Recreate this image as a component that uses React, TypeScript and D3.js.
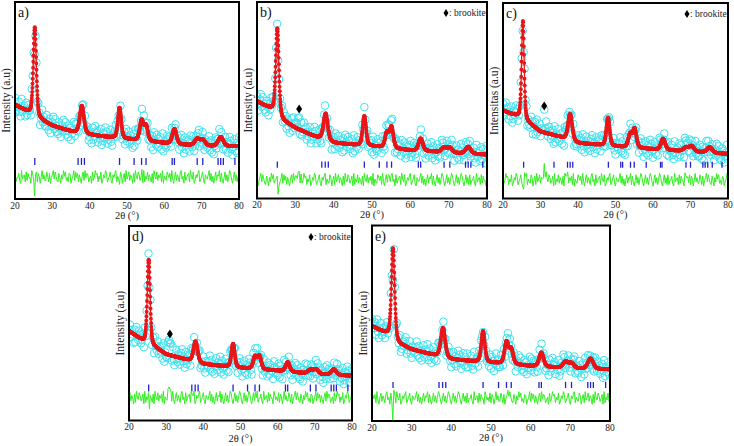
import React from "react";
import * as d3 from "d3";

// ---- data (intensities in % of panel height) ----
const TWO_THETA_TICKS = [20, 30, 40, 50, 60, 70, 80];
const BG_X = [20, 24, 27, 30, 35, 40, 45, 50, 55, 60, 65, 70, 75, 80];
const PEAK_POS = [25.3, 37.9, 48.0, 53.9, 55.1, 62.7, 68.8, 70.3, 75.1];
const PEAK_FWHM = [0.95, 1.3, 1.05, 1.15, 1.15, 1.3, 1.5, 1.5, 1.6];

const BG_A = [47.8, 43.6, 40.2, 37.2, 34.3, 32.6, 31.4, 30.4, 29.4, 28.4, 27.5, 27.0, 26.7, 26.8];
const BG_B = [49.4, 45.2, 39.3, 35.9, 31.6, 28.3, 27.4, 26.6, 25.5, 24.5, 24.0, 23.2, 22.8, 22.3];
const BG_C = [45.0, 41.8, 38.4, 34.2, 31.6, 28.3, 27.5, 26.6, 25.9, 25.2, 24.6, 24.0, 23.4, 22.8];
const BG_D = [46.0, 40.5, 37.5, 34.0, 31.5, 29.0, 28.0, 27.0, 26.3, 25.6, 24.7, 23.9, 23.4, 23.0];
const BG_E = [48.5, 44.3, 39.2, 36.6, 34.0, 31.5, 30.6, 29.8, 29.0, 28.1, 27.5, 26.9, 26.6, 26.4];

const PEAKS_A = [45.0, 14.0, 15.5, 10.0, 7.5, 7.6, 3.3, 3.0, 4.8];
const PEAKS_B = [44.0, 13.5, 15.0, 7.5, 10.5, 6.3, 2.4, 2.6, 3.5];
const PEAKS_C = [50.5, 13.5, 14.3, 6.6, 9.5, 5.7, 1.9, 2.8, 2.9];
const PEAKS_D = [43.5, 10.6, 12.0, 6.2, 6.6, 4.8, 1.9, 2.4, 2.9];
const PEAKS_E = [46.3, 15.0, 15.8, 11.0, 7.5, 7.2, 3.2, 2.6, 5.3];

const ANATASE_TICKS = [25.3, 36.9, 37.8, 38.6, 48.0, 51.9, 53.9, 55.1, 62.1, 62.7, 68.8, 70.3, 74.4, 75.1, 75.8, 78.9];
const MIXED_TICKS = [25.5, 33.6, 37.2, 37.9, 38.6, 48.1, 51.4, 51.9, 54.0, 55.0, 58.2, 62.0, 62.4, 68.8, 70.0, 73.3, 73.9, 74.6, 75.8, 78.4];

// residual samples (one digit per 0.25 deg step, 4.5 = zero)
const NOISE =
  "81447209356182744096352817504936228517046938521740639582417603592847163058294761350824967153802649713582064791532860471935826407195386247091538264170953826471905328647193058264179350824671953802647913582064" +
  "36927150482659173048261597304826159730482615973048261";

// extra residual features: [2theta, amplitude, fwhm]
const BUMPS_A = [[25.25, -10, 0.1], [25.5, 3, 0.1], [48.0, -2, 0.2], [54.0, 2, 0.3]];
const BUMPS_B = [[25.5, -8.5, 0.1], [25.0, 3, 0.1], [30.8, 5, 0.7], [54.5, 2.5, 0.6]];
const BUMPS_C = [[25.5, -6, 0.1], [25.75, 4, 0.1], [31.0, 6.5, 0.6], [37.0, 3, 0.5], [69.0, 2, 0.6]];
const BUMPS_D = [[25.5, -4, 0.1], [30.9, 5, 0.7], [54.2, 2.5, 0.5], [37.2, 2, 0.5]];
const BUMPS_E = [[25.25, -11, 0.1], [25.5, 3, 0.1], [54.5, 2, 0.4]];

const BROOKITE_MARK_B = [31.0, 45.5];
const BROOKITE_MARK_C = [31.0, 47.3];
const BROOKITE_MARK_D = [31.0, 44.5];

// ---- layout ----
type Panel = {
  label: string; ylabel: string; box: number[]; bg: number[]; peaks: number[];
  mainW: number; ticks: number[]; tickBand: number[]; diffBase: number;
  bumps: number[][]; noiseOffset: number; mark: number[] | null; titleDy: number;
};

const PANELS: Panel[] = [
  { label: "a)", ylabel: "Intensity (a.u)", box: [15, 2, 239, 199], bg: BG_A, peaks: PEAKS_A, mainW: 0.95, ticks: ANATASE_TICKS, tickBand: [17.3, 20.8], diffBase: 11.2, bumps: BUMPS_A, noiseOffset: 0, mark: null, titleDy: 19.5 },
  { label: "b)", ylabel: "Intensity (a.u)", box: [257, 2, 487, 198.5], bg: BG_B, peaks: PEAKS_B, mainW: 0.95, ticks: ANATASE_TICKS, tickBand: [15.7, 18.8], diffBase: 9.6, bumps: BUMPS_B, noiseOffset: 37, mark: BROOKITE_MARK_B, titleDy: 19.5 },
  { label: "c)", ylabel: "Intensitas (a.u)", box: [503, 3, 728, 198.5], bg: BG_C, peaks: PEAKS_C, mainW: 0.8, ticks: MIXED_TICKS, tickBand: [15.7, 18.8], diffBase: 9.6, bumps: BUMPS_C, noiseOffset: 83, mark: BROOKITE_MARK_C, titleDy: 19.5 },
  { label: "d)", ylabel: "Intensity (a.u)", box: [129, 226, 352, 420.5], bg: BG_D, peaks: PEAKS_D, mainW: 0.9, ticks: ANATASE_TICKS, tickBand: [14.9, 18.5], diffBase: 11.8, bumps: BUMPS_D, noiseOffset: 121, mark: BROOKITE_MARK_D, titleDy: 21.5 },
  { label: "e)", ylabel: "Intensity (a.u)", box: [372, 225.5, 610, 421], bg: BG_E, peaks: PEAKS_E, mainW: 0.95, ticks: ANATASE_TICKS, tickBand: [16.9, 20.0], diffBase: 11.8, bumps: BUMPS_E, noiseOffset: 163, mark: null, titleDy: 20 },
];

const FONT = "'Liberation Serif', 'DejaVu Serif', serif";
const LN2 = Math.log(2);

function pv(x: number, c: number, w: number) {
  const t = (x - c) / w;
  const g = Math.exp(-4 * LN2 * t * t);
  const l = 1 / (1 + 4 * t * t);
  return 0.35 * l + 0.65 * g;
}
function gauss(x: number, c: number, w: number) {
  const t = (x - c) / w;
  return Math.exp(-4 * LN2 * t * t);
}

function Diamond({ cx, cy, w, h }: { cx: number; cy: number; w: number; h: number }) {
  return <path d={`M${cx},${cy - h / 2}L${cx + w / 2},${cy}L${cx},${cy + h / 2}L${cx - w / 2},${cy}Z`} fill="#000" />;
}

const txt = (size: number) => ({ fontFamily: FONT, fontSize: `${size}px` });

function PanelView({ p, idx }: { p: Panel; idx: number }) {
  const [x0, y0, x1, y1] = p.box;
  const x = d3.scaleLinear().domain([20, 80]).range([x0, x1]);
  const y = d3.scaleLinear().domain([0, 100]).range([y1, y0]);
  const bgScale = d3.scaleLinear().domain(BG_X).range(p.bg).clamp(true);
  const widths = PEAK_FWHM.map((w, i) => (i === 0 ? p.mainW : w));
  const calc = (t: number) =>
    bgScale(t) + PEAK_POS.reduce((s, c, i) => s + p.peaks[i] * pv(t, c, widths[i]), 0);

  const calcX = d3.range(0, 1201).map((i) => 20 + i * 0.05);
  const calcPts = calcX.map((t) => [t, calc(t)] as [number, number]);

  const obsX = d3.range(0, 241).map((i) => 20 + i * 0.25);
  const diff = obsX.map((t, i) => {
    const ch = NOISE.charCodeAt((i + p.noiseOffset) % NOISE.length) - 48;
    let v = (ch - 4.5) * 0.72;
    for (const [c, a, w] of p.bumps) v += a * gauss(t, c, w);
    return v;
  });
  const obs = obsX.map((t, i) => [t, calc(t) + diff[i] * 1.4] as [number, number]);

  const line = d3.line<[number, number]>().x((d) => x(d[0])).y((d) => y(d[1]));
  const clipId = `clip${idx}`;
  const cxm = (x0 + x1) / 2;
  const cym = (y0 + y1) / 2;

  return (
    <g>
      <defs>
        <clipPath id={clipId}>
          <rect x={x0} y={y0} width={x1 - x0} height={y1 - y0} />
        </clipPath>
      </defs>
      <g clipPath={`url(#${clipId})`}>
        {obs.map((d, i) => (
          <circle key={i} cx={x(d[0])} cy={y(d[1])} r={3.8} fill="none" stroke="#3fe2f0" strokeWidth={1} />
        ))}
        <path d={line(calcPts) || ""} fill="none" stroke="#e8161a" strokeWidth={1.3} />
        {calcPts.map((d, i) => (
          <circle key={"c" + i} cx={x(d[0])} cy={y(d[1])} r={1.95} fill="#e8161a" />
        ))}
        {p.ticks.map((t, i) => (
          <line key={"t" + i} x1={x(t)} x2={x(t)} y1={y(p.tickBand[0])} y2={y(p.tickBand[1])} stroke="#2323c8" strokeWidth={1.3} />
        ))}
        <path
          d={line(obsX.map((t, i) => [t, p.diffBase + diff[i]] as [number, number])) || ""}
          fill="none" stroke="#33ee22" strokeWidth={1} />
        {p.mark && <Diamond cx={x(p.mark[0])} cy={y(p.mark[1])} w={6} h={9} />}
      </g>
      <rect x={x0} y={y0} width={x1 - x0} height={y1 - y0} fill="none" stroke="#000" strokeWidth={2} />
      {TWO_THETA_TICKS.map((t) => (
        <text key={t} x={x(t)} y={y1 + 9.5} textAnchor="middle" style={txt(9.5)} fill="#222">{t}</text>
      ))}
      <text x={cxm} y={y1 + p.titleDy} textAnchor="middle" style={txt(10.5)} fill="#222">2θ (°)</text>
      <text transform={`translate(${x0 - 5},${cym}) rotate(-90)`} textAnchor="middle" style={txt(11.5)} fill="#222">{p.ylabel}</text>
      <text x={x0 + 3} y={y0 + 15} style={txt(14)} fill="#111">{p.label}</text>
      {p.mark && (
        <g>
          <text x={x1 - 38} y={y0 + 14} textAnchor="start" style={txt(9.5)} fill="#222">: brookite</text>
          <Diamond cx={x1 - 41} cy={y0 + 11} w={5} h={8} />
        </g>
      )}
    </g>
  );
}

export default function App() {
  return (
    <svg width={734} height={446} style={{ position: "absolute", left: 0, top: 0, background: "#fff" }}>
      <rect x={0} y={0} width={734} height={446} fill="#fff" />
      {PANELS.map((p, i) => (
        <PanelView key={i} p={p} idx={i} />
      ))}
    </svg>
  );
}
